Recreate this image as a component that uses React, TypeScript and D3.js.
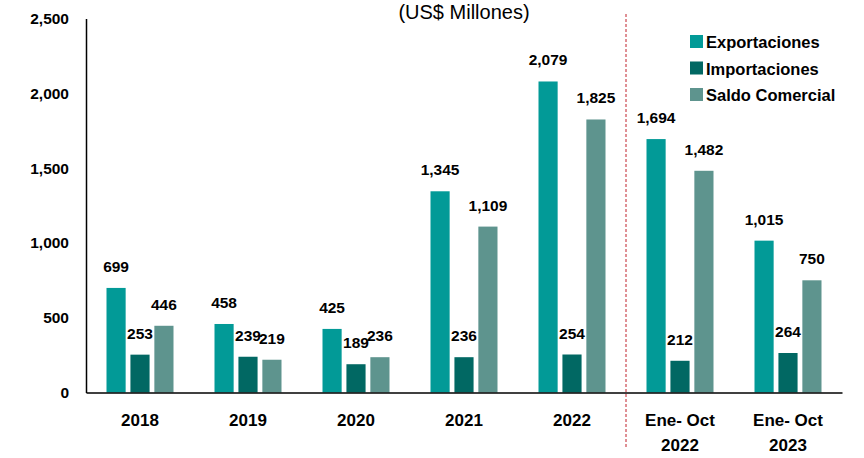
import React, { useEffect, useRef } from "react";
import * as d3 from "d3";

const categories = ["2018", "2019", "2020", "2021", "2022", "Ene- Oct|2022", "Ene- Oct|2023"];
const exportaciones = [699, 458, 425, 1345, 2079, 1694, 1015];
const importaciones = [253, 239, 189, 236, 254, 212, 264];
const saldoComercial = [446, 219, 236, 1109, 1825, 1482, 750];
const seriesNames = ["Exportaciones", "Importaciones", "Saldo Comercial"];
const yTicks = [0, 500, 1000, 1500, 2000, 2500];

const App = () => {
  const svgRef = useRef<SVGSVGElement | null>(null);
  const width = 864;
  const height = 458;
  const margin = { top: 18.5, right: 22, bottom: 65.5, left: 86 };

  useEffect(() => {
    const svg = d3.select(svgRef.current).attr("width", width).attr("height", height);
    svg.selectAll("*").remove();

    const font = "'Liberation Sans', Arial, sans-serif";
    const colors = ["#029a97", "#016863", "#5e948e"];
    const seriesData = [exportaciones, importaciones, saldoComercial];

    const x = d3
      .scaleBand()
      .domain(categories)
      .range([margin.left, width - margin.right]);

    const y = d3
      .scaleLinear()
      .domain([0, 2500])
      .range([height - margin.bottom, margin.top]);

    const inner = d3.scaleBand().domain(seriesNames).range([0, 67]).paddingInner(0.2);
    const offset = (x.bandwidth() - 67) / 2;

    // title (sits right at the top edge)
    svg
      .append("text")
      .attr("x", 464)
      .attr("y", 19)
      .attr("text-anchor", "middle")
      .style("font-family", font)
      .style("font-size", "20px")
      .text("(US$ Millones)");

    // bars + value labels
    seriesData.forEach((vals, si) => {
      const g = svg.append("g").attr("fill", colors[si]);
      g.selectAll("rect")
        .data(vals)
        .enter()
        .append("rect")
        .attr("x", (d, i) => x(categories[i])! + offset + inner(seriesNames[si])!)
        .attr("y", (d) => y(d))
        .attr("width", inner.bandwidth())
        .attr("height", (d) => y(0) - y(d));

      svg
        .append("g")
        .selectAll("text")
        .data(vals)
        .enter()
        .append("text")
        .attr("x", (d, i) => x(categories[i])! + offset + inner(seriesNames[si])! + inner.bandwidth() / 2)
        .attr("y", (d) => y(d) - 16)
        .attr("text-anchor", "middle")
        .style("font-family", font)
        .style("font-weight", "bold")
        .style("font-size", "15.5px")
        .text((d) => d3.format(",")(d));
    });

    // y axis
    const yAxis = svg
      .append("g")
      .attr("transform", `translate(${margin.left},0)`)
      .call(d3.axisLeft(y).tickValues(yTicks).tickFormat(d3.format(",")).tickSize(0).tickPadding(17));
    yAxis.select(".domain").attr("stroke", "#000").attr("stroke-width", 1.5);
    yAxis
      .selectAll("text")
      .style("font-family", font)
      .style("font-weight", "bold")
      .style("font-size", "15.5px")
      .attr("fill", "#000");

    // x axis
    const xAxis = svg
      .append("g")
      .attr("transform", `translate(0,${y(0)})`)
      .call(d3.axisBottom(x).tickSize(0).tickFormat(() => ""));
    xAxis.select(".domain").attr("stroke", "#000").attr("stroke-width", 1.5);
    xAxis.selectAll(".tick").each(function (d) {
      const parts = String(d).split("|");
      const t = d3
        .select(this)
        .append("text")
        .attr("fill", "#000")
        .attr("text-anchor", "middle")
        .style("font-family", font)
        .style("font-weight", "bold")
        .style("font-size", "17px");
      parts.forEach((p, i) => {
        t.append("tspan").attr("x", 0).attr("y", 33 + i * 25).text(p);
      });
    });

    // dashed separator
    const sepX = x(categories[5])!;
    svg
      .append("line")
      .attr("x1", sepX)
      .attr("x2", sepX)
      .attr("y1", 14)
      .attr("y2", 448)
      .attr("stroke", "#c0202a")
      .attr("stroke-width", 1)
      .attr("stroke-dasharray", "3,2");

    // legend
    const legend = svg.append("g").attr("transform", "translate(690,35)");
    seriesNames.forEach((name, i) => {
      const item = legend.append("g").attr("transform", `translate(0,${i * 26.5})`);
      item.append("rect").attr("width", 13).attr("height", 13).attr("fill", colors[i]);
      item
        .append("text")
        .attr("x", 16)
        .attr("y", 13)
        .style("font-family", font)
        .style("font-weight", "bold")
        .style("font-size", "16.5px")
        .text(name);
    });
  }, []);

  return <svg ref={svgRef} style={{ position: "absolute", left: 0, top: 0 }}></svg>;
};

export default App;
